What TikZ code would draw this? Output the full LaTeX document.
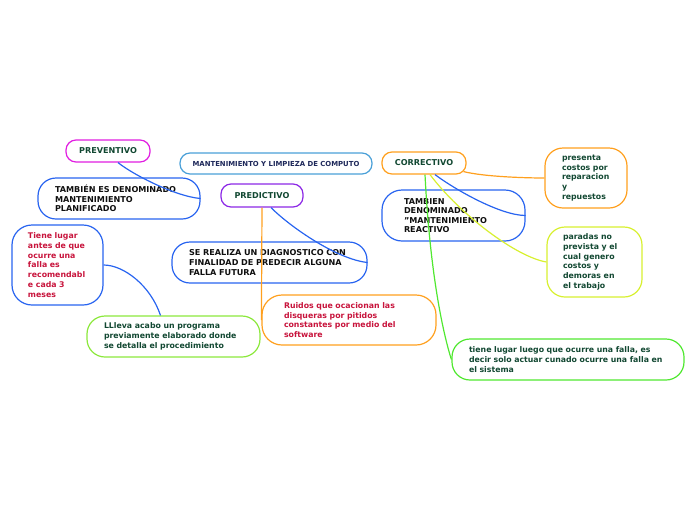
\documentclass[tikz,border=0pt]{standalone}
\usepackage{fontspec}
\setmainfont{DejaVu Sans}
\usetikzlibrary{calc}
\definecolor{tgreen}{RGB}{18,72,50}
\definecolor{tred}{RGB}{200,20,60}
\definecolor{tnavy}{RGB}{30,40,90}
\definecolor{tblack}{RGB}{15,15,15}
\definecolor{cblue}{RGB}{40,100,240}
\definecolor{cmag}{RGB}{225,30,225}
\definecolor{cpurp}{RGB}{140,40,230}
\definecolor{corange}{RGB}{255,160,30}
\definecolor{clblue}{RGB}{74,160,216}
\definecolor{cyel}{RGB}{216,240,48}
\definecolor{clime}{RGB}{140,232,60}
\definecolor{cgreen}{RGB}{80,232,48}
\begin{document}
\begin{tikzpicture}[x=1pt,y=-1pt,
  bx/.style={draw=#1, line width=1.2pt, fill=white, inner ysep=0pt},
  capsf/.style={font=\fontsize{8.1}{9.6}\selectfont\bfseries},
  lowf/.style={font=\fontsize{7.8}{9.7}\selectfont\bfseries},
  multi/.style={align=left},
  conn/.style={draw=#1, line width=1.2pt}]
\useasboundingbox (0,0) rectangle (696,520);

% title-level nodes
\node[bx=cmag, rounded corners=10pt, capsf, text=tgreen, minimum width=84pt, minimum height=22pt, inner xsep=0pt] (prev) at (108,151) {PREVENTIVO};
\node[bx=clblue, rounded corners=10pt, font=\fontsize{6.9}{8}\selectfont\bfseries, text=tnavy, minimum width=192pt, minimum height=21pt, inner xsep=0pt] (mant) at (276,163.5) {MANTENIMIENTO Y LIMPIEZA DE COMPUTO};
\node[bx=cpurp, rounded corners=10pt, capsf, text=tgreen, minimum width=82pt, minimum height=23pt, inner xsep=0pt] (pred) at (262,195.5) {PREDICTIVO};
\node[bx=corange, rounded corners=10pt, capsf, text=tgreen, minimum width=84pt, minimum height=22pt, inner xsep=0pt] (corr) at (424,163) {CORRECTIVO};

% detail nodes
\node[bx=cblue, rounded corners=18pt, capsf, multi, text=tblack, inner xsep=17pt, text width=128pt, minimum height=41pt] (tam1) at (119,198.5) {TAMBIÉN ES DENOMINADO\\MANTENIMIENTO\\PLANIFICADO};
\node[bx=cblue, rounded corners=20pt, capsf, multi, text=tblack, inner xsep=22pt, text width=99pt, minimum height=51pt] (tam2) at (453.5,215.5) {TAMBIEN\\DENOMINADO\\"MANTENIMIENTO\\REACTIVO};
\node[bx=corange, rounded corners=18pt, lowf, multi, text=tgreen, inner xsep=15pt, text width=52pt, minimum height=60pt] (pres) at (586,178) {\hspace*{2pt}presenta\\\hspace*{2pt}costos por\\\hspace*{2pt}reparacion\\\hspace*{2pt}y\\\hspace*{2pt}repuestos};
\node[bx=cyel, rounded corners=18pt, lowf, multi, text=tgreen, inner xsep=16pt, text width=63pt, minimum height=70pt] (par) at (594.5,262) {paradas no\\prevista y el\\cual genero\\costos y\\demoras en\\el trabajo};
\node[bx=cblue, rounded corners=18pt, capsf, multi, text=tblack, inner xsep=17pt, text width=161pt, minimum height=41pt] (sereal) at (269.5,262.5) {SE REALIZA UN DIAGNOSTICO CON\\FINALIDAD DE PREDECIR ALGUNA\\FALLA FUTURA};
\node[bx=cblue, rounded corners=20pt, lowf, multi, text=tred, inner xsep=15pt, text width=61pt, minimum height=80pt] (tiene) at (57.5,265) {\hspace*{1pt}Tiene lugar\\\hspace*{1pt}antes de que\\\hspace*{1pt}ocurre una\\\hspace*{1pt}falla es\\\hspace*{1pt}recomendabl\\\hspace*{1pt}e cada 3\\\hspace*{1pt}meses};
\node[bx=clime, rounded corners=18pt, lowf, multi, text=tgreen, inner xsep=17pt, text width=139pt, minimum height=41pt] (lleva) at (173.5,336.5) {LLleva acabo un programa\\previamente elaborado donde\\se detalla el procedimiento};
\node[bx=corange, rounded corners=20pt, lowf, multi, text=tred, inner xsep=22pt, text width=130pt, minimum height=50pt] (ruidos) at (349,320) {Ruidos que ocacionan las\\disqueras por pitidos\\constantes por medio del\\software};
\node[bx=cgreen, rounded corners=18pt, lowf, multi, text=tgreen, inner xsep=16pt, text width=200pt, minimum height=41pt] (luego) at (568,359.5) {\hspace*{1pt}tiene lugar luego que ocurre una falla, es\\\hspace*{1pt}decir solo actuar cunado ocurre una falla en\\\hspace*{1pt}el sistema};

% connectors
\draw[conn=cblue] ($(prev.south)+(10,0)$) .. controls +(15,12) and +(-25,-2) .. (tam1.east);
\draw[conn=cblue] ($(pred.south)+(9,0)$) .. controls +(20,20) and +(-30,-3) .. (sereal.east);
\draw[conn=corange] (pred.south) -- (ruidos.west);
\draw[conn=cblue] (tiene.east) .. controls +(20,0) and +(-10,-30) .. ($(lleva.north)+(-13,0)$);
\draw[conn=corange] ($(corr.south east)+(-3,-3)$) .. controls +(20,5) and +(-20,0) .. (pres.west);
\draw[conn=cblue] ($(corr.south)+(11,0)$) .. controls +(20,15) and +(-25,0) .. (tam2.east);
\draw[conn=cyel] ($(corr.south)+(6,0)$) .. controls +(30,40) and +(-30,-5) .. (par.west);
\draw[conn=cgreen] ($(corr.south)+(1,0)$) .. controls +(5,100) and +(-8,-25) .. (luego.west);
\end{tikzpicture}
\end{document}
